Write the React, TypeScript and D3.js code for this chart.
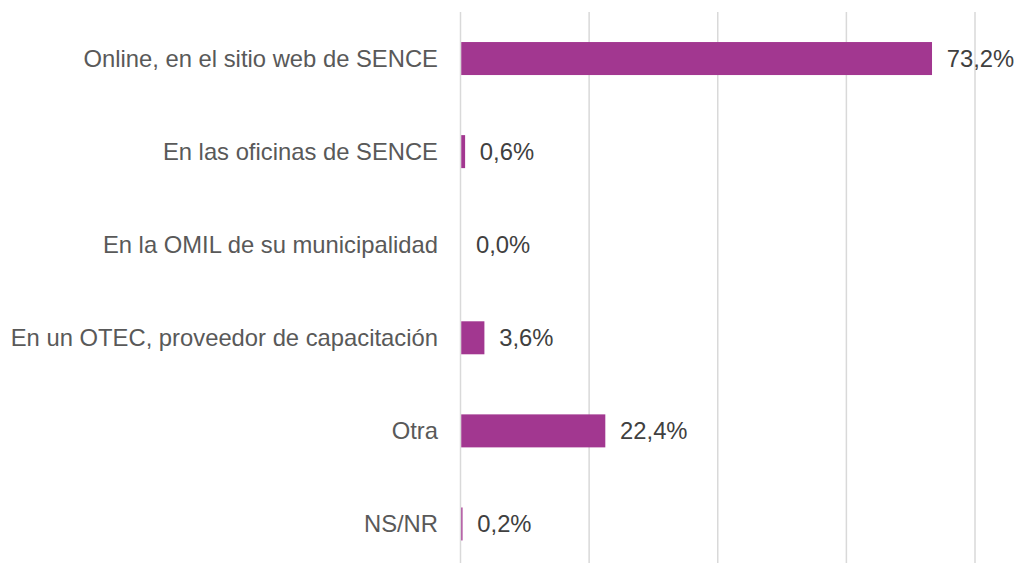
import React, { useEffect, useRef } from "react";
import * as d3 from "d3";

const categories = [
  "Online, en el sitio web de SENCE",
  "En las oficinas de SENCE",
  "En la OMIL de su municipalidad",
  "En un OTEC, proveedor de capacitación",
  "Otra",
  "NS/NR",
];
const values = [73.2, 0.6, 0.0, 3.6, 22.4, 0.2];
const gridTicks = [0, 20, 40, 60, 80];

const App = () => {
  const ref = useRef<SVGSVGElement>(null);

  useEffect(() => {
    const width = 1016;
    const height = 563;
    const barColor = "#a23790";
    const svg = d3.select(ref.current);
    svg.selectAll("*").remove();

    const xScale = d3.scaleLinear().domain([0, 80]).range([460.5, 975]);
    const yScale = d3
      .scaleBand<string>()
      .domain(categories)
      .range([12, 570.5])
      .padding(0);
    const barHeight = 33;

    // vertical grid lines
    svg
      .append("g")
      .selectAll("line")
      .data(gridTicks)
      .enter()
      .append("line")
      .attr("x1", (d) => xScale(d))
      .attr("x2", (d) => xScale(d))
      .attr("y1", 12)
      .attr("y2", height)
      .attr("stroke", "#d9d9d9")
      .attr("stroke-width", 1.5);

    const rows = svg
      .append("g")
      .selectAll("g")
      .data(categories)
      .enter()
      .append("g")
      .attr("transform", (d) => "translate(0," + (yScale(d)! + yScale.bandwidth() / 2) + ")");

    rows
      .append("rect")
      .attr("x", xScale(0) + 0.75)
      .attr("y", -barHeight / 2)
      .attr("width", (d, i) => Math.max(0, xScale(values[i]) - xScale(0)))
      .attr("height", barHeight)
      .attr("fill", barColor);

    rows
      .append("text")
      .text((d) => d)
      .attr("x", 438)
      .attr("dy", "0.35em")
      .attr("text-anchor", "end")
      .style("font-family", "'Liberation Sans', Arial, sans-serif")
      .style("font-size", "23.8px")
      .style("fill", "#595959");

    rows
      .append("text")
      .text((d, i) => values[i].toFixed(1).replace(".", ",") + "%")
      .attr("x", (d, i) => xScale(values[i]) + 15.5)
      .attr("dy", "0.35em")
      .style("font-family", "'Liberation Sans', Arial, sans-serif")
      .style("font-size", "23.8px")
      .style("fill", "#404040");

    svg.attr("width", width).attr("height", height);
  }, []);

  return (
    <svg
      ref={ref}
      style={{ position: "absolute", top: 0, left: 0, background: "white", display: "block" }}
    ></svg>
  );
};

export default App;
